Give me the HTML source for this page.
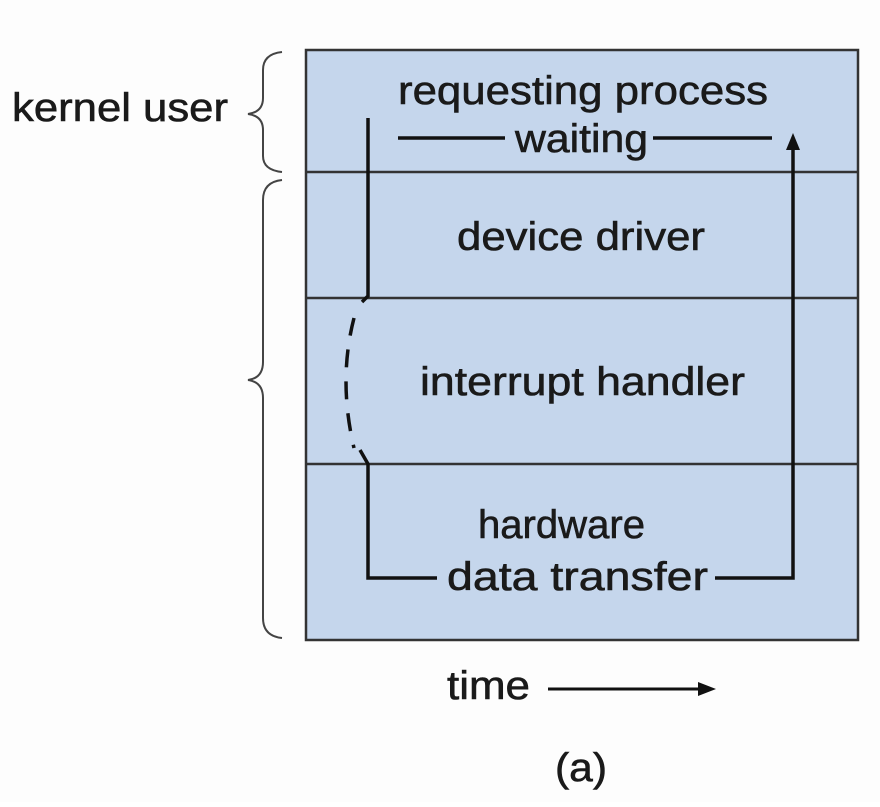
<!DOCTYPE html>
<html><head><style>
body{margin:0;background:#fff}
svg text{font-family:"Liberation Sans",sans-serif;fill:#1a1a1a;stroke:#1a1a1a;stroke-width:0.6}
</style></head><body>
<svg width="880" height="802" viewBox="0 0 880 802" xmlns="http://www.w3.org/2000/svg">
<rect width="880" height="802" fill="#fdfdfd"/>
<rect x="306" y="50" width="552" height="590" fill="#c5d6ec" stroke="#333" stroke-width="2.5"/>
<g stroke="#333" stroke-width="2.5">
<line x1="306" y1="172" x2="858" y2="172"/>
<line x1="306" y1="298" x2="858" y2="298"/>
<line x1="306" y1="464" x2="858" y2="464"/>
</g>
<g font-size="40">
<text x="398" y="104" textLength="370" lengthAdjust="spacingAndGlyphs">requesting process</text>
<text x="515" y="152" textLength="133" lengthAdjust="spacingAndGlyphs">waiting</text>
<text x="457" y="250" textLength="248" lengthAdjust="spacingAndGlyphs">device driver</text>
<text x="420" y="395" textLength="325" lengthAdjust="spacingAndGlyphs">interrupt handler</text>
<text x="478" y="538" textLength="167" lengthAdjust="spacingAndGlyphs">hardware</text>
<text x="447" y="590" textLength="261" lengthAdjust="spacingAndGlyphs">data transfer</text>
<text x="12" y="121" textLength="216" lengthAdjust="spacingAndGlyphs">kernel user</text>
<text x="447" y="699" textLength="83" lengthAdjust="spacingAndGlyphs">time</text>
<text x="555" y="781" textLength="52" lengthAdjust="spacingAndGlyphs">(a)</text>
</g>
<g stroke="#111" stroke-width="3.5" fill="none">
<line x1="398" y1="138" x2="505" y2="138"/>
<line x1="653" y1="138" x2="772" y2="138"/>
<polyline points="368,118 368,296 362,302"/>
<path d="M354,318 Q338,380 354,448" stroke-dasharray="18,14"/>
<polyline points="360,450 368,464 368,578 437,578"/>
<polyline points="715,578 793,578 793,148"/>
<line x1="548" y1="689" x2="700" y2="689" stroke-width="3"/>
</g>
<polygon points="793,133 786,150 800,150" fill="#111"/>
<polygon points="716,689 698,682 698,696" fill="#111"/>
<g stroke="#444" stroke-width="2" fill="none">
<path d="M282,52 Q263,54 263,70 L263,98 Q263,112 248,114 Q263,116 263,130 L263,156 Q263,170 282,172"/>
<path d="M282,180 Q263,182 263,200 L263,362 Q263,378 248,380 Q263,382 263,398 L263,618 Q263,636 282,638"/>
</g>
</svg>
</body></html>
